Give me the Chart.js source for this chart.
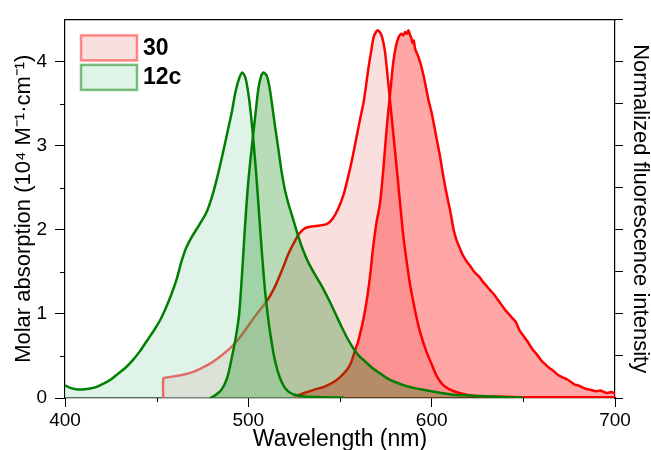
<!DOCTYPE html>
<html>
<head>
<meta charset="utf-8">
<script src="https://cdn.jsdelivr.net/npm/chart.js@4"></script>
<style>
    html, body { margin: 0; padding: 0; background: #fff; }
    canvas { display: block; }
</style>
</head>
<body>
<canvas id="chart-spectra" width="651" height="450"></canvas>
<script>
// 12c absorption
const abs12cX = [400, 403, 406, 409, 413, 417, 421, 425, 429, 433, 437, 441, 445, 449, 452, 455, 458, 461, 463.5, 466, 469, 473, 477, 480, 483, 486, 489, 491, 493, 495, 496.7, 498.5, 500, 501.5, 503, 504.5, 506, 507.5, 509, 510.5, 512, 514, 516, 518, 520, 523, 527, 532, 540, 552];
const abs12cY = [0.15, 0.12, 0.105, 0.10, 0.11, 0.13, 0.17, 0.22, 0.29, 0.36, 0.45, 0.56, 0.69, 0.82, 0.93, 1.07, 1.23, 1.42, 1.62, 1.78, 1.91, 2.05, 2.20, 2.38, 2.62, 2.90, 3.20, 3.40, 3.64, 3.80, 3.87, 3.80, 3.62, 3.35, 3.00, 2.60, 2.15, 1.70, 1.30, 1.00, 0.76, 0.50, 0.32, 0.20, 0.12, 0.06, 0.03, 0.015, 0.01, 0.005];

// 12c emission
const em12cX = [479, 481, 483, 485, 487, 489, 491, 493, 495, 496.5, 498, 499.5, 501, 502.5, 504, 505.5, 507, 508.3, 510, 511.5, 513, 514.5, 516.5, 518.2, 520, 522, 524.5, 527, 530, 533, 536, 539, 542, 545, 548, 551, 554, 557, 560, 564, 568, 572, 576, 580, 585, 590, 595, 600, 605, 612, 620, 630, 640, 650];
const em12cY = [0.0, 0.02, 0.05, 0.09, 0.16, 0.28, 0.48, 0.70, 1.00, 1.45, 1.98, 2.45, 2.80, 3.10, 3.40, 3.68, 3.83, 3.87, 3.83, 3.70, 3.48, 3.24, 2.94, 2.68, 2.47, 2.30, 2.12, 1.94, 1.75, 1.60, 1.48, 1.37, 1.25, 1.12, 0.98, 0.84, 0.71, 0.60, 0.51, 0.43, 0.35, 0.29, 0.23, 0.19, 0.15, 0.12, 0.10, 0.08, 0.06, 0.04, 0.03, 0.02, 0.01, 0.005];

// 30 absorption
const abs30X = [453.6, 453.7, 456, 460, 465, 470, 475, 480, 485, 490, 495, 500, 505, 510, 514, 518, 522, 525, 528, 531, 535, 539, 543, 546, 549, 552, 555, 557, 559, 561, 563, 565.5, 567, 568.5, 570.5, 572.5, 574.5, 576.4, 578, 579.5, 581, 582.7, 584.5, 586.5, 588.2, 590, 592, 594, 597, 600, 603, 606, 610, 615, 621, 630, 648, 700];
const abs30Y = [0, 0.236, 0.245, 0.26, 0.28, 0.31, 0.36, 0.42, 0.50, 0.59, 0.71, 0.86, 1.01, 1.15, 1.30, 1.50, 1.72, 1.85, 1.96, 2.02, 2.04, 2.05, 2.07, 2.13, 2.25, 2.42, 2.68, 2.88, 3.10, 3.32, 3.53, 3.92, 4.12, 4.30, 4.37, 4.32, 4.12, 3.73, 3.38, 3.05, 2.72, 2.33, 1.93, 1.60, 1.35, 1.14, 0.93, 0.76, 0.56, 0.40, 0.25, 0.16, 0.10, 0.06, 0.03, 0.02, 0.01, 0.01];

// 30 emission
const em30X = [524, 528, 532, 536, 541, 545, 548, 551, 553.6, 556, 558, 560, 562, 563.5, 565, 566.5, 568, 570, 571.8, 573.6, 575.5, 577.3, 579, 580.5, 582, 583.5, 584.5, 585.5, 586.5, 587.3, 588, 589, 589.6, 590.2, 591, 592.5, 594, 595.5, 597, 598.5, 600, 601.5, 603, 604.5, 606, 607.5, 609, 610.5, 612, 613.5, 615, 616.5, 618, 619.5, 621, 622.5, 624, 626, 628, 630, 632, 634, 636, 638, 640, 642, 644, 646, 648, 650, 652, 655, 658, 660, 662, 664, 666, 668, 670, 672, 674, 676, 678, 680, 682, 684, 686, 688, 690, 692, 694, 696, 698, 700];
const em30Y = [0.0, 0.04, 0.07, 0.10, 0.13, 0.17, 0.21, 0.27, 0.33, 0.42, 0.55, 0.68, 0.86, 1.02, 1.22, 1.47, 1.78, 2.10, 2.31, 2.71, 3.22, 3.61, 3.98, 4.18, 4.29, 4.33, 4.31, 4.35, 4.33, 4.37, 4.33, 4.27, 4.22, 4.25, 4.15, 4.07, 3.97, 3.84, 3.68, 3.52, 3.39, 3.22, 3.05, 2.88, 2.68, 2.50, 2.34, 2.18, 2.00, 1.88, 1.80, 1.72, 1.66, 1.61, 1.57, 1.52, 1.48, 1.44, 1.38, 1.33, 1.28, 1.23, 1.17, 1.11, 1.05, 1.00, 0.95, 0.90, 0.80, 0.74, 0.68, 0.58, 0.50, 0.44, 0.40, 0.36, 0.33, 0.29, 0.26, 0.24, 0.22, 0.19, 0.16, 0.15, 0.13, 0.11, 0.10, 0.09, 0.08, 0.09, 0.07, 0.06, 0.07, 0.05];

const legendLabels = ["30", "12c"];
const xMinorTicks = [450, 550, 650];
const yMinorTicks = [0.5, 1.5, 2.5, 3.5];

const RED = "#ff0000";
const GREEN = "#008000";

Chart.defaults.font.family = "'Liberation Sans', Arial, sans-serif";
Chart.defaults.color = "#000";

function points(xs, ys) {
    return xs.map((x, i) => ({ x, y: ys[i] }));
}

function lineSet(label, xs, ys, color, fillColor, order) {
    return {
        label,
        data: points(xs, ys),
        borderColor: color,
        backgroundColor: fillColor,
        borderWidth: 2.5,
        fill: "origin",
        pointRadius: 0,
        tension: 0.25,
        order,
    };
}

// minor ticks + legend box in the top-left corner
const extras = {
    id: "extras",
    afterDraw(chart) {
        const { ctx, chartArea, scales } = chart;
        ctx.save();
        ctx.strokeStyle = "#000";
        ctx.lineWidth = 1;
        ctx.beginPath();
        for (const v of xMinorTicks) {
            const px = Math.round(scales.x.getPixelForValue(v)) + 0.5;
            ctx.moveTo(px, chartArea.bottom);
            ctx.lineTo(px, chartArea.bottom + 4);
        }
        for (const v of yMinorTicks) {
            const py = Math.round(scales.y.getPixelForValue(v)) + 0.5;
            ctx.moveTo(chartArea.left, py);
            ctx.lineTo(chartArea.left - 5, py);
        }
        ctx.stroke();

        const boxes = [
            { fill: "rgb(250, 223, 223)", stroke: "rgba(255, 60, 60, 0.6)" },
            { fill: "rgb(224, 243, 232)", stroke: "rgba(0, 128, 0, 0.5)" },
        ];
        const x0 = chartArea.left + 16;
        ctx.lineWidth = 2.5;
        ctx.font = "bold 23px 'Liberation Sans', Arial, sans-serif";
        ctx.textBaseline = "middle";
        legendLabels.forEach((txt, i) => {
            const y0 = chartArea.top + 16 + i * 29.5;
            ctx.fillStyle = boxes[i].fill;
            ctx.fillRect(x0, y0, 56, 25);
            ctx.strokeStyle = boxes[i].stroke;
            ctx.strokeRect(x0, y0, 56, 25);
            ctx.fillStyle = "#000";
            ctx.fillText(txt, x0 + 62, y0 + 13);
        });
        ctx.restore();
    },
};

const canvas = document.getElementById("chart-spectra");
new Chart(canvas, {
    type: "line",
    data: {
        datasets: [
            lineSet("12c emission", em12cX, em12cY, GREEN, "rgba(0, 128, 0, 0.28)", 1),
            lineSet("12c absorption", abs12cX, abs12cY, GREEN, "rgba(190, 229, 208, 0.48)", 2),
            lineSet("30 emission", em30X, em30Y, RED, "rgba(255, 0, 0, 0.35)", 3),
            lineSet("30 absorption", abs30X, abs30Y, RED, "rgba(240, 150, 150, 0.3)", 4),
        ],
    },
    options: {
        responsive: false,
        animation: false,
        layout: { padding: { top: 15, left: 0, right: 0, bottom: 0 } },
        plugins: {
            legend: { display: false },
            tooltip: { enabled: false },
        },
        scales: {
            x: {
                type: "linear",
                position: "bottom",
                min: 400,
                max: 700,
                afterFit: (s) => { s.height = 52; },
                ticks: { stepSize: 100, includeBounds: false, padding: 2, font: { size: 19 }, color: "#000" },
                grid: { drawOnChartArea: false, tickLength: 9, color: "#000", tickWidth: 1 },
                border: { color: "#000", width: 1.2 },
                title: {
                    display: true,
                    text: "Wavelength (nm)",
                    font: { size: 23, lineHeight: 0.92 },
                    padding: { top: 0, bottom: 0 },
                    color: "#000",
                },
            },
            xTop: {
                type: "linear",
                position: "top",
                min: 400,
                max: 700,
                afterFit: (s) => { s.height = 0; },
                ticks: { display: false },
                grid: { drawOnChartArea: false, drawTicks: false },
                border: { color: "#000", width: 1.2 },
            },
            y: {
                position: "left",
                min: 0,
                max: 4.5,
                afterFit: (s) => { s.width = 65; },
                ticks: { stepSize: 1, includeBounds: false, padding: 8, font: { size: 19 }, color: "#000" },
                grid: { drawOnChartArea: false, tickLength: 10, color: "#000", tickWidth: 1 },
                border: { color: "#000", width: 1.2 },
                title: {
                    display: true,
                    text: "Molar absorption (10⁴ M⁻¹·cm⁻¹)",
                    font: { size: 22, lineHeight: 1 },
                    padding: { top: 13, bottom: 0 },
                    color: "#000",
                },
            },
            y2: {
                position: "right",
                min: 0,
                max: 4.5,
                afterFit: (s) => { s.width = 36; },
                ticks: { stepSize: 0.5, includeBounds: false, display: false },
                grid: { drawOnChartArea: false, tickLength: 8, color: "#000", tickWidth: 1 },
                border: { color: "#000", width: 1.2 },
                title: {
                    display: true,
                    text: "Normalized fluorescence intensity",
                    font: { size: 22, lineHeight: 1 },
                    padding: { top: 0, bottom: 0 },
                    color: "#000",
                },
            },
        },
    },
    plugins: [extras],
});
</script>
</body>
</html>
